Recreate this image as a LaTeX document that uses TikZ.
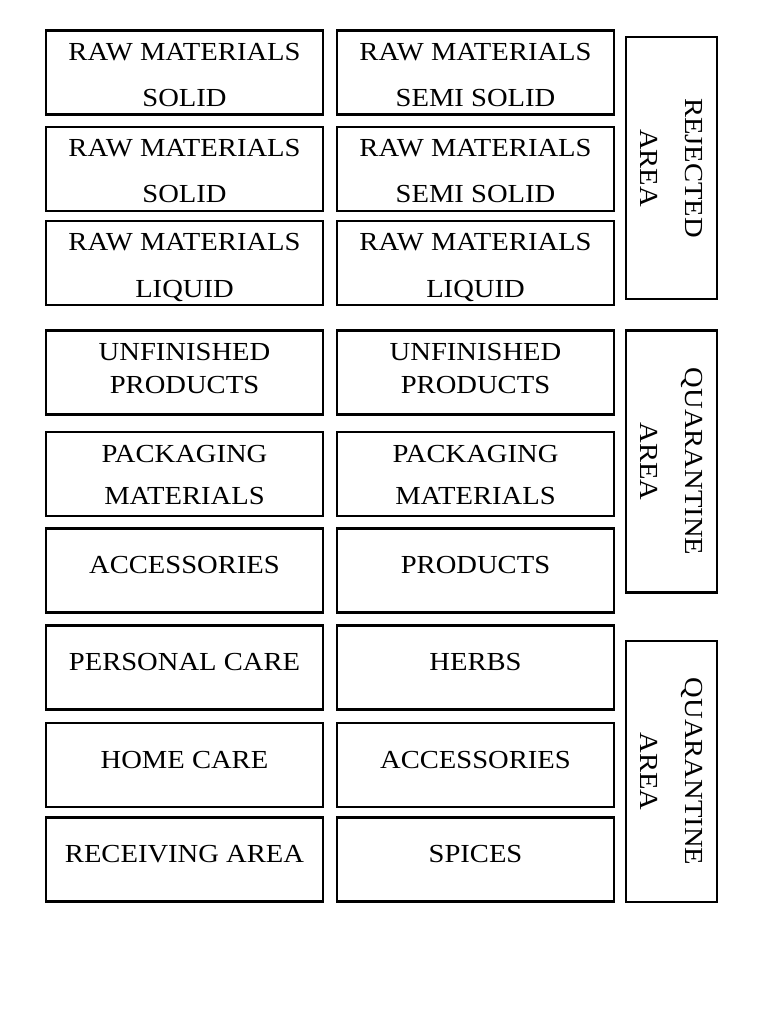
\documentclass[tikz,border=0pt]{standalone}
\usepackage{fontspec}
\setmainfont{Liberation Serif}[FakeStretch=1.1]
\tikzset{x=1pt, y=-1pt, % Pixel-like coordinates, y grows downwards
        bin/.style={ % Every storage box
            draw,
            line width=2.2pt,
            anchor=north west,
            inner sep=0pt,
            outer sep=0pt},
        shelf/.style={bin, minimum width=277pt, minimum height=84pt},
        sidebin/.style={bin, minimum width=91pt},
        lbl/.style={ % Text inside a box, placed by its baseline
            anchor=base,
            inner sep=0pt,
            font=\fontsize{26}{30}\selectfont},
        sidelbl/.style={ % Text of the narrow boxes on the right
            rotate=-90,
            align=center,
            inner sep=0pt,
            font=\fontsize{26}{45}\selectfont}
        }

\begin{document}
\begin{tikzpicture}
    \useasboundingbox (0,0) rectangle (768,1024);

    % left column
    \node[shelf] (rsol1) at (46,30.5) {};
    \node[shelf] (rsol2) at (46,127) {};
    \node[shelf] (rliq1) at (46,221) {};
    \node[shelf] (unf1) at (46,330.5) {};
    \node[shelf] (pack1) at (46,432) {};
    \node[shelf] (acc1) at (46,528.5) {};
    \node[shelf] (pcare) at (46,625.5) {};
    \node[shelf] (hcare) at (46,723) {};
    \node[shelf] (recv) at (46,817.5) {};

    % middle column
    \node[shelf] (rsemi1) at (337,30.5) {};
    \node[shelf] (rsemi2) at (337,127) {};
    \node[shelf] (rliq2) at (337,221) {};
    \node[shelf] (unf2) at (337,330.5) {};
    \node[shelf] (pack2) at (337,432) {};
    \node[shelf] (prod) at (337,528.5) {};
    \node[shelf] (herbs) at (337,625.5) {};
    \node[shelf] (acc2) at (337,723) {};
    \node[shelf] (spice) at (337,817.5) {};

    % right column
    \node[sidebin, minimum height=262pt] (rej) at (626,37) {};
    \node[sidebin, minimum height=262pt] (quar1) at (626,330.5) {};
    \node[sidebin, minimum height=261pt] (quar2) at (626,641) {};

    % labels, left
    \node[lbl] (rsol1a) at ([yshift=-30pt]rsol1.north) {RAW MATERIALS};
    \node[lbl] (rsol1b) at ([yshift=-76pt]rsol1.north) {SOLID};
    \node[lbl] (rsol2a) at ([yshift=-30pt]rsol2.north) {RAW MATERIALS};
    \node[lbl] (rsol2b) at ([yshift=-76pt]rsol2.north) {SOLID};
    \node[lbl] (rliq1a) at ([yshift=-30pt]rliq1.north) {RAW MATERIALS};
    \node[lbl] (rliq1b) at ([yshift=-76pt]rliq1.north) {LIQUID};
    \node[lbl] (unf1a) at ([yshift=-30pt]unf1.north) {UNFINISHED};
    \node[lbl] (unf1b) at ([yshift=-63pt]unf1.north) {PRODUCTS};
    \node[lbl] (pack1a) at ([yshift=-30pt]pack1.north) {PACKAGING};
    \node[lbl] (pack1b) at ([yshift=-72pt]pack1.north) {MATERIALS};
    \node[lbl] (acc1a) at ([yshift=-45pt]acc1.north) {ACCESSORIES};
    \node[lbl] (pcarea) at ([yshift=-45pt]pcare.north) {PERSONAL CARE};
    \node[lbl] (hcarea) at ([yshift=-45pt]hcare.north) {HOME CARE};
    \node[lbl] (recva) at ([yshift=-45pt]recv.north) {RECEIVING AREA};

    % labels, middle
    \node[lbl] (rsemi1a) at ([yshift=-30pt]rsemi1.north) {RAW MATERIALS};
    \node[lbl] (rsemi1b) at ([yshift=-76pt]rsemi1.north) {SEMI SOLID};
    \node[lbl] (rsemi2a) at ([yshift=-30pt]rsemi2.north) {RAW MATERIALS};
    \node[lbl] (rsemi2b) at ([yshift=-76pt]rsemi2.north) {SEMI SOLID};
    \node[lbl] (rliq2a) at ([yshift=-30pt]rliq2.north) {RAW MATERIALS};
    \node[lbl] (rliq2b) at ([yshift=-76pt]rliq2.north) {LIQUID};
    \node[lbl] (unf2a) at ([yshift=-30pt]unf2.north) {UNFINISHED};
    \node[lbl] (unf2b) at ([yshift=-63pt]unf2.north) {PRODUCTS};
    \node[lbl] (pack2a) at ([yshift=-30pt]pack2.north) {PACKAGING};
    \node[lbl] (pack2b) at ([yshift=-72pt]pack2.north) {MATERIALS};
    \node[lbl] (proda) at ([yshift=-45pt]prod.north) {PRODUCTS};
    \node[lbl] (herbsa) at ([yshift=-45pt]herbs.north) {HERBS};
    \node[lbl] (acc2a) at ([yshift=-45pt]acc2.north) {ACCESSORIES};
    \node[lbl] (spicea) at ([yshift=-45pt]spice.north) {SPICES};

    % labels, right
    \node[sidelbl] (reja) at (rej.center) {REJECTED\\AREA};
    \node[sidelbl] (quar1a) at (quar1.center) {QUARANTINE\\AREA};
    \node[sidelbl] (quar2a) at (quar2.center) {QUARANTINE\\AREA};
\end{tikzpicture}
\end{document}
